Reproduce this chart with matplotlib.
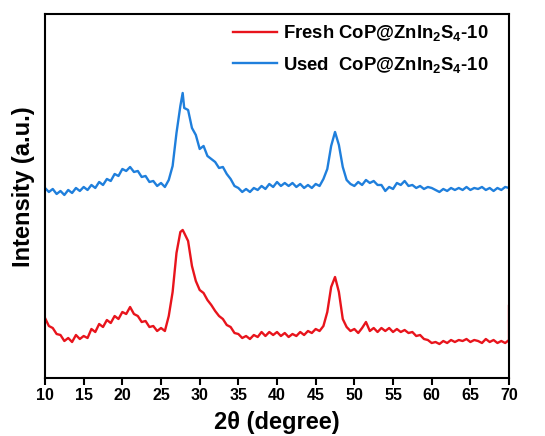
import numpy as np
import matplotlib.pyplot as plt

plt.rcParams['font.family'] = ['Liberation Sans', 'DejaVu Sans']
plt.rcParams['font.weight'] = 'bold'
plt.rcParams['mathtext.fontset'] = 'custom'
plt.rcParams['mathtext.rm'] = 'Liberation Sans:bold'
plt.rcParams['mathtext.default'] = 'rm'

# 2theta (degree), 0.5 deg steps plus the peak tops
two_theta = [10, 10.5, 11, 11.5, 12, 12.5, 13, 13.5, 14, 14.5, 15, 15.5, 16, 16.5,
             17, 17.5, 18, 18.5, 19, 19.5, 20, 20.5, 21, 21.5, 22, 22.5, 23, 23.5,
             24, 24.5, 25, 25.5, 26, 26.5, 27, 27.5, 27.8, 28, 28.5, 29, 29.5, 30,
             30.5, 31, 31.5, 32, 32.5, 33, 33.5, 34, 34.5, 35, 35.5, 36, 36.5, 37,
             37.5, 38, 38.5, 39, 39.5, 40, 40.5, 41, 41.5, 42, 42.5, 43, 43.5, 44,
             44.5, 45, 45.5, 46, 46.5, 47, 47.5, 48, 48.5, 49, 49.5, 50, 50.5, 51,
             51.5, 52, 52.5, 53, 53.5, 54, 54.5, 55, 55.5, 56, 56.5, 57, 57.5, 58,
             58.5, 59, 59.5, 60, 60.5, 61, 61.5, 62, 62.5, 63, 63.5, 64, 64.5, 65,
             65.5, 66, 66.5, 67, 67.5, 68, 68.5, 69, 69.5, 70]

# intensity (a.u.)
used = [190, 186, 189, 184, 187, 183, 188, 185, 190, 187, 191, 188, 193, 190,
        196, 193, 199, 197, 204, 202, 209, 207, 211, 206, 207, 201, 202, 196,
        197, 192, 195, 191, 198, 212, 245, 272, 285, 270, 268, 250, 243, 229,
        232, 222, 219, 216, 210, 211, 204, 199, 192, 190, 186, 189, 186, 190,
        188, 192, 189, 194, 191, 196, 192, 195, 192, 195, 191, 194, 190, 193,
        190, 194, 192, 199, 209, 232, 246, 233, 211, 198, 194, 192, 196, 193,
        198, 195, 197, 193, 193, 187, 191, 189, 195, 193, 197, 192, 193, 190,
        192, 189, 191, 190, 188, 186, 189, 187, 190, 188, 190, 188, 191, 188,
        190, 189, 191, 188, 190, 187, 190, 188, 191, 190]

fresh = [60, 52, 50, 44, 43, 37, 40, 36, 43, 39, 42, 40, 49, 46,
         54, 51, 58, 55, 62, 59, 66, 64, 71, 64, 62, 56, 57, 51,
         52, 47, 50, 47, 62, 86, 125, 146, 148, 145, 137, 112, 97, 88,
         85, 78, 73, 67, 62, 59, 53, 51, 45, 44, 40, 42, 39, 43,
         41, 46, 42, 46, 43, 46, 42, 45, 41, 44, 42, 46, 43, 47,
         45, 49, 47, 52, 66, 91, 101, 86, 59, 51, 47, 49, 45, 50,
         56, 47, 50, 46, 50, 47, 50, 46, 49, 46, 48, 45, 46, 42,
         43, 39, 38, 35, 36, 34, 37, 35, 38, 36, 38, 37, 39, 36,
         38, 37, 35, 39, 36, 38, 35, 37, 35, 38]

# last recorded point of the fresh scan (spike at the right edge)
fresh_end = (70, 72)

labels = [r'Fresh CoP@ZnIn$_{2}$S$_{4}$-10', r'Used  CoP@ZnIn$_{2}$S$_{4}$-10']

fig = plt.figure(figsize=(5.45, 4.36), dpi=100)
ax = fig.add_axes([0.0826, 0.133, 0.8514, 0.835])

ax.plot(two_theta + [fresh_end[0]], fresh + [fresh_end[1]], color='#e8141c',
        linewidth=1.7, label=labels[0])
ax.plot(two_theta, used, color='#1f7fdc', linewidth=1.7, label=labels[1])

ax.set_xlim(10, 70)
ax.set_ylim(0, 364)
ax.set_xticks(np.arange(10, 71, 5))
ax.set_yticks([])
ax.tick_params(axis='x', direction='out', length=5, width=1.5, labelsize=11.5, pad=2)
for s in ax.spines.values():
    s.set_linewidth(1.5)

ax.set_xlabel('2θ (degree)', fontsize=17, fontweight='bold', labelpad=6)
ax.set_ylabel('Intensity (a.u.)', fontsize=17, fontweight='bold')
ax.yaxis.set_label_coords(-0.022, 0.525)

leg = ax.legend(loc='upper right', frameon=False, fontsize=13.3, handlelength=2.4,
                handletextpad=0.3, labelspacing=0.62, borderpad=0, borderaxespad=0,
                bbox_to_anchor=(0.955, 0.975))

fig.savefig('out.png', dpi=100)
